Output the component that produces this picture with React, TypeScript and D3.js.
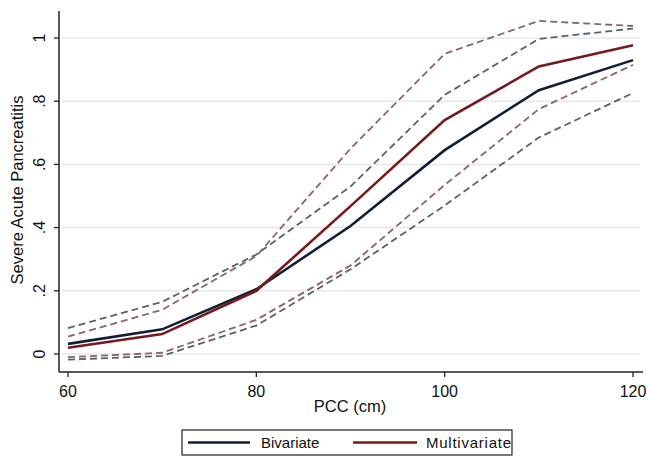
import React from 'react';
import * as d3 from 'd3';

const pcc = [60, 70, 80, 90, 100, 110, 120];
const bivariate = [0.032, 0.078, 0.205, 0.405, 0.645, 0.835, 0.93];
const multivariate = [0.02, 0.063, 0.2, 0.468, 0.74, 0.91, 0.977];
const bivLower = [-0.018, -0.006, 0.09, 0.268, 0.47, 0.685, 0.826];
const bivUpper = [0.082, 0.165, 0.315, 0.53, 0.82, 0.997, 1.03];
const mulLower = [-0.01, 0.004, 0.108, 0.28, 0.535, 0.775, 0.915];
const mulUpper = [0.055, 0.14, 0.31, 0.65, 0.95, 1.054, 1.038];
const xTicks = [60, 80, 100, 120];
const yTicks = [0, 0.2, 0.4, 0.6, 0.8, 1];
const yTickLabels = ['0', '.2', '.4', '.6', '.8', '1'];

const NAVY = '#111f36';
const MAROON = '#761a1c';
const NAVY_CI = '#56626f';
const MAROON_CI = '#8e6364';
const FONT = '"Liberation Sans", Arial, sans-serif';

const App = () => {
  const width = 648;
  const height = 458;
  const axisLeft = 59;
  const axisRight = 643;
  const axisTop = 11;
  const axisBottom = 372;

  const x = d3.scaleLinear().domain([60, 120]).range([68, 633]);
  const y = d3.scaleLinear().domain([0, 1]).range([354, 38]);

  const line = d3.line<number>()
    .x((_, i) => x(pcc[i]))
    .y(d => y(d));

  const series = [
    { values: bivLower, color: NAVY_CI, dashed: true },
    { values: bivUpper, color: NAVY_CI, dashed: true },
    { values: mulLower, color: MAROON_CI, dashed: true },
    { values: mulUpper, color: MAROON_CI, dashed: true },
    { values: bivariate, color: NAVY, dashed: false },
    { values: multivariate, color: MAROON, dashed: false },
  ];

  return (
    <svg width={width} height={height} style={{ position: 'absolute', left: 0, top: 0 }}>
      <rect width={width} height={height} fill="#fff" />

      {/* grid */}
      {yTicks.map(t => (
        <line key={'g' + t} x1={62} x2={640} y1={y(t)} y2={y(t)} stroke="#e8e8e8" strokeWidth={1.5} />
      ))}

      {/* lines */}
      {series.map((s, i) => (
        <path
          key={i}
          d={line(s.values) || ''}
          fill="none"
          stroke={s.color}
          strokeWidth={s.dashed ? 1.8 : 2.6}
          strokeDasharray={s.dashed ? '7,4' : undefined}
        />
      ))}

      {/* y axis */}
      <line x1={axisLeft} x2={axisLeft} y1={axisTop} y2={axisBottom} stroke="#222" strokeWidth={1.5} />
      {yTicks.map((t, i) => (
        <g key={'y' + t} transform={`translate(${axisLeft},${y(t)})`}>
          <line x1={0} x2={-5} stroke="#222" strokeWidth={1.3} />
          <text
            transform="translate(-14,0) rotate(-90)"
            textAnchor="middle"
            fontFamily={FONT}
            fontSize={16}
            fill="#111"
          >
            {yTickLabels[i]}
          </text>
        </g>
      ))}
      <text
        transform={`translate(23,190) rotate(-90)`}
        textAnchor="middle"
        fontFamily={FONT}
        fontSize={16.5}
        fill="#111"
      >
        Severe Acute Pancreatitis
      </text>

      {/* x axis */}
      <line x1={axisLeft} x2={axisRight} y1={axisBottom} y2={axisBottom} stroke="#222" strokeWidth={1.5} />
      {xTicks.map(t => (
        <g key={'x' + t} transform={`translate(${x(t)},${axisBottom})`}>
          <line y1={0} y2={5} stroke="#222" strokeWidth={1.3} />
          <text y={25} textAnchor="middle" fontFamily={FONT} fontSize={16} fill="#111">
            {t}
          </text>
        </g>
      ))}
      <text x={350} y={412} textAnchor="middle" fontFamily={FONT} fontSize={16.5} fill="#111">
        PCC (cm)
      </text>

      {/* legend */}
      <rect x={182} y={430} width={330} height={25} fill="#fff" stroke="#222" strokeWidth={1.2} />
      <line x1={188} x2={250} y1={442.5} y2={442.5} stroke={NAVY} strokeWidth={2.4} />
      <text x={261} y={448} fontFamily={FONT} fontSize={15} fill="#111">Bivariate</text>
      <line x1={353} x2={417} y1={442.5} y2={442.5} stroke={MAROON} strokeWidth={2.4} />
      <text x={426} y={448} fontFamily={FONT} fontSize={15} fill="#111" textLength={85}>Multivariate</text>
    </svg>
  );
};

export default App;
